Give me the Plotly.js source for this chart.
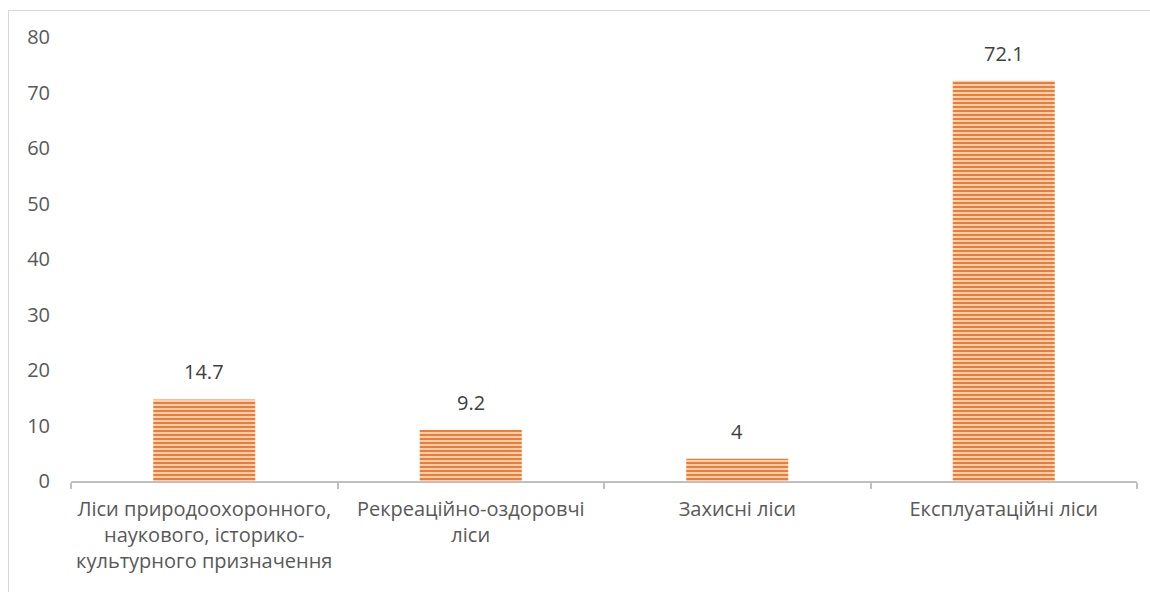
<!DOCTYPE html>
<html>
<head>
<meta charset="utf-8">
<script src="https://cdn.plot.ly/plotly-3.0.1.min.js"></script>
<style>
html,body{margin:0;padding:0;background:#fff;}
#wrap{position:relative;width:1150px;height:592px;overflow:hidden;}
#frame{position:absolute;left:8px;top:10px;width:1160px;height:620px;border:1px solid #D9D9D9;box-sizing:border-box;pointer-events:none;}
#chart{position:absolute;left:0;top:0;width:1150px;height:592px;}
</style>
</head>
<body>
<div id="wrap">
<div id="frame"></div>
<div id="chart"></div>
</div>
<script>
const categories = [
  "Ліси природоохоронного,<br>наукового, історико-<br>культурного призначення",
  "Рекреаційно-оздоровчі<br>ліси",
  "Захисні ліси",
  "Експлуатаційні ліси"
];
const values = [14.7, 9.2, 4, 72.1];
const valueLabels = ["14.7", "9.2", "4", "72.1"];
const yTicks = [0, 10, 20, 30, 40, 50, 60, 70, 80];

const FONT = "'Open Sans', 'Noto Sans', sans-serif";

const trace = {
  type: "bar",
  x: categories,
  y: values,
  marker: {
    color: "#F8CBAD",
    line: {width: 0},
    pattern: {shape: "-", fgcolor: "#ED7D31", bgcolor: "#FCE4D6", size: 4, solidity: 0.6, fillmode: "replace"}
  },
  hoverinfo: "none"
};

const annotations = categories.map((c, i) => ({
  x: c, y: values[i], xref: "x", yref: "y",
  text: valueLabels[i], showarrow: false,
  yanchor: "bottom", yshift: 12,
  font: {family: FONT, size: 20, color: "#404040"}
}));

const layout = {
  width: 1150,
  height: 592,
  margin: {l: 71, r: 13, t: 37, b: 111, pad: 0},
  paper_bgcolor: "rgba(0,0,0,0)",
  plot_bgcolor: "rgba(0,0,0,0)",
  showlegend: false,
  bargap: 0.617,
  font: {family: FONT, size: 20, color: "#595959"},
  annotations: annotations,
  xaxis: {
    type: "category",
    showline: true,
    linecolor: "#BFBFBF",
    linewidth: 2,
    ticks: "outside",
    tickson: "boundaries",
    ticklen: 6,
    tickwidth: 2,
    tickcolor: "#BFBFBF",
    ticklabelstandoff: 9,
    tickfont: {family: FONT, size: 20, color: "#595959"},
    showgrid: false,
    zeroline: false,
    fixedrange: true
  },
  yaxis: {
    range: [0, 80],
    tickvals: yTicks,
    ticktext: yTicks.map(String),
    showline: false,
    showgrid: false,
    zeroline: false,
    ticks: "",
    ticklabelstandoff: 20,
    tickfont: {family: FONT, size: 20, color: "#595959"},
    fixedrange: true
  }
};

Plotly.newPlot("chart", [trace], layout, {displayModeBar: false, staticPlot: true});
</script>
</body>
</html>
